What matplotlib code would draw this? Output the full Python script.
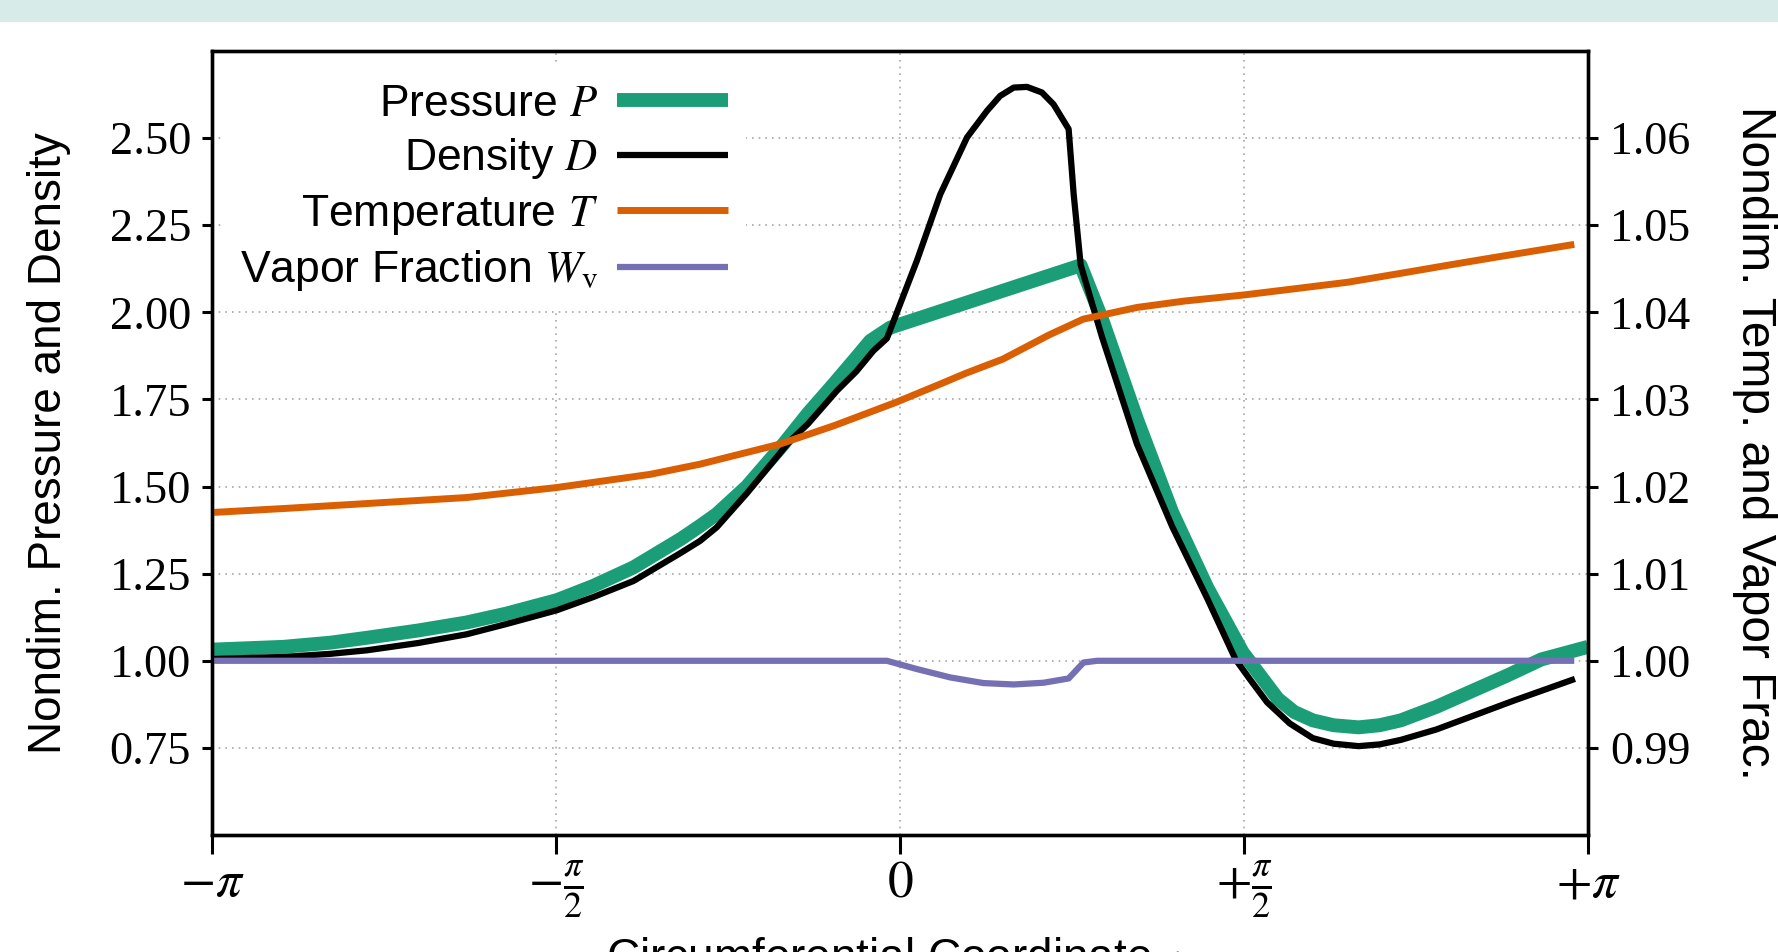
import matplotlib
matplotlib.use('Agg')
import matplotlib.pyplot as plt
from matplotlib.patches import Rectangle
import numpy as np

PI = np.pi

# ---------------- data ----------------
phi_P = [-3.1416, -2.816, -2.6, -2.435, -2.2, -1.979, -1.8, -1.567, -1.4, -1.217,
         -1.0, -0.913, -0.837, -0.7, -0.532, -0.42, -0.303, -0.2, -0.136, -0.045,
         0.825, 0.922, 1.082, 1.243, 1.403, 1.564, 1.725, 1.80, 1.885, 1.98, 2.094,
         2.19, 2.287, 2.45, 2.608, 2.77, 2.929, 3.1416]
P = [1.032, 1.040, 1.052, 1.066, 1.087, 1.110, 1.135, 1.174, 1.215, 1.268,
     1.350, 1.387, 1.421, 1.500, 1.622, 1.710, 1.794, 1.870, 1.918, 1.956,
     2.135, 1.981, 1.693, 1.426, 1.210, 1.025, 0.891, 0.853, 0.829, 0.815, 0.809,
     0.815, 0.829, 0.868, 0.912, 0.957, 1.004, 1.040]

phi_D = [-3.1416, -2.816, -2.6, -2.435, -2.2, -1.979, -1.8, -1.567, -1.4, -1.217,
         -1.0, -0.913, -0.837, -0.7, -0.502, -0.42, -0.288, -0.2, -0.121, -0.060,
         0.077, 0.184, 0.306, 0.397, 0.457, 0.519, 0.580, 0.648, 0.701, 0.770,
         0.793, 0.825, 0.922, 1.082, 1.243, 1.403, 1.532, 1.60, 1.676, 1.78, 1.885,
         1.98, 2.094, 2.19, 2.287, 2.45, 2.608, 2.80, 3.082]
D = [1.005, 1.011, 1.020, 1.030, 1.051, 1.076, 1.105, 1.145, 1.183, 1.229,
     1.310, 1.344, 1.383, 1.480, 1.631, 1.680, 1.775, 1.830, 1.890, 1.925,
     2.148, 2.339, 2.502, 2.578, 2.621, 2.645, 2.647, 2.631, 2.597, 2.526,
     2.339, 2.136, 1.930, 1.622, 1.385, 1.179, 1.004, 0.945, 0.881, 0.820, 0.778,
     0.762, 0.755, 0.760, 0.773, 0.803, 0.840, 0.885, 0.948]

phi_T = [-3.1416, -2.8, -2.435, -1.979, -1.567, -1.141, -0.913, -0.550, -0.3, -0.020,
         0.183, 0.3, 0.469, 0.681, 0.837, 1.082, 1.3, 1.572, 1.8, 2.046, 2.308, 2.5,
         2.714, 3.079]
T = [1.01702, 1.01750, 1.01805, 1.01874, 1.01989, 1.02140, 1.02257, 1.02486, 1.02700,
     1.02965, 1.03176, 1.03300, 1.03462, 1.03741, 1.03922, 1.04056, 1.04130, 1.04200,
     1.04270, 1.04346, 1.04457, 1.04540, 1.04630, 1.04780]

phi_W = [-3.1416, -0.060, 0.077, 0.229, 0.381, 0.519, 0.656, 0.770, 0.838, 0.900, 3.079]
W = [1.0, 1.0, 0.99905, 0.99809, 0.99744, 0.99728, 0.99748, 0.99797, 0.99980, 1.0, 1.0]

x_ticks = [-PI, -PI / 2, 0, PI / 2, PI]
x_ticklabels = [r'$-\pi$', r'$-\frac{\pi}{2}$', r'$0$', r'$+\frac{\pi}{2}$', r'$+\pi$']
yL_ticks = [0.75, 1.00, 1.25, 1.50, 1.75, 2.00, 2.25, 2.50]
yR_ticks = [0.99, 1.00, 1.01, 1.02, 1.03, 1.04, 1.05, 1.06]

c_P = '#1b9e77'
c_D = '#000000'
c_T = '#d95f02'
c_W = '#7570b3'

# ---------------- style ----------------
plt.rcParams['mathtext.fontset'] = 'stix'
plt.rcParams['font.family'] = ['Liberation Sans', 'DejaVu Sans']
FS = 32

fig = plt.figure(figsize=(17.78, 9.52), dpi=100)
fig.patches.append(Rectangle((0, 1 - 22 / 952), 1, 22 / 952, transform=fig.transFigure,
                             facecolor='#d7ece9', edgecolor='none', zorder=0))

ax = fig.add_axes([212 / 1778, 117 / 952, 1376 / 1778, 784 / 952])
ax2 = ax.twinx()

lP, = ax.plot(phi_P, P, color=c_P, lw=10, solid_capstyle='butt', solid_joinstyle='round',
              label=r'Pressure $P$', zorder=2)
lD, = ax.plot(phi_D, D, color=c_D, lw=4.5, solid_capstyle='butt', solid_joinstyle='round',
              label=r'Density $D$', zorder=3)
lT, = ax2.plot(phi_T, T, color=c_T, lw=5, solid_capstyle='butt', solid_joinstyle='round',
               label=r'Temperature $T$')
lW, = ax2.plot(phi_W, W, color=c_W, lw=4.5, solid_capstyle='butt', solid_joinstyle='round',
               label=r'Vapor Fraction $W_\mathrm{v}$')

ax.set_xlim(-PI, PI)
ax.set_ylim(0.5, 2.75)
ax2.set_ylim(0.98, 1.07)

ax.set_xticks(x_ticks)
ax.set_xticklabels(x_ticklabels)
ax.set_yticks(yL_ticks)
ax.set_yticklabels([f'{v:.2f}' for v in yL_ticks])
ax2.set_yticks(yR_ticks)
ax2.set_yticklabels([f'{v:.2f}' for v in yR_ticks])

for a in (ax, ax2):
    for s in a.spines.values():
        s.set_linewidth(2.4)

ax.tick_params(axis='x', direction='out', length=13.7, width=2.2, pad=3, labelsize=37)
ax.tick_params(axis='y', direction='out', length=7, width=2.2, pad=8, labelsize=33.5,
               labelfontfamily='Liberation Serif')
ax2.tick_params(axis='y', direction='out', length=7, width=2.2, pad=9, labelsize=33,
                labelfontfamily='Liberation Serif')

ax.grid(True, linestyle=(0, (1, 3)), color='#a8a8a8', linewidth=1.2)
ax.set_axisbelow(True)

ax.set_ylabel('Nondim. Pressure and Density', fontsize=33, labelpad=28)
ax2.set_ylabel('Nondim. Temp. and Vapor Frac.', fontsize=34.5, rotation=270, labelpad=62)
ax.set_xlabel(r'Circumferential Coordinate $\varphi$', fontsize=33, labelpad=10)

leg = ax2.legend(handles=[lP, lD, lT, lW], loc='upper right', bbox_to_anchor=(0.388, 0.981),
                 borderaxespad=0, markerfirst=False, fontsize=FS, frameon=True,
                 framealpha=1, edgecolor='none', facecolor='white', fancybox=False,
                 handlelength=2.5, handletextpad=0.43, labelspacing=0.26, borderpad=0.4)
for t in leg.get_texts():
    t.set_ha('right')

fig.savefig('out.png', dpi=100)
